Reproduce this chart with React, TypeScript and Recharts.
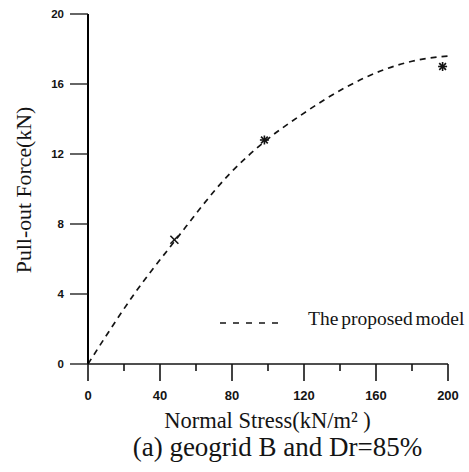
import React from 'react';
import { ComposedChart, Line, Scatter, XAxis, YAxis, Legend, Label } from 'recharts';

// Model curve
const curveStress = [0, 10, 25, 48, 79, 98, 118, 143, 164, 180, 195, 200];
const curveForce = [0, 1.6, 3.9, 7.0, 10.9, 12.7, 14.2, 15.8, 16.8, 17.3, 17.55, 17.6];
// Test results (markers)
const testStress = [48, 98, 197];
const testForce = [7.1, 12.8, 17.0];

const xTicks = [0, 20, 40, 60, 80, 100, 120, 140, 160, 180, 200];
const yTicks = [0, 4, 8, 12, 16, 20];

const xAxisTitle = 'Normal Stress(kN/m\u00B2 )';
const yAxisTitle = 'Pull-out Force(kN)';
const caption = '(a) geogrid B and Dr=85%';
const legendLabel = 'The proposed model';

const curveData = curveStress.map((x, i) => ({ x, y: curveForce[i] }));
const testData = testStress.map((x, i) => ({ x, y: testForce[i] }));

const SERIF = '"Liberation Serif", "Times New Roman", serif';
const SANS = '"Liberation Sans", Arial, sans-serif';
const INK = '#141414';

const XTick = (props: any) => {
  const { x, y, payload } = props;
  const v = payload.value;
  const major = v % 40 === 0;
  return (
    <g>
      <line x1={x} x2={x} y1={y} y2={y + (major ? 17 : 7)} stroke={INK} strokeWidth={1.6} />
      {major && (
        <text x={x} y={y + 36} textAnchor="middle" fontFamily={SANS} fontSize={13} fontWeight={600} fill={INK}>
          {v}
        </text>
      )}
    </g>
  );
};

const YTick = (props: any) => {
  const { x, y, payload } = props;
  return (
    <text x={x} y={y + 4} textAnchor="end" fontFamily={SANS} fontSize={11.5} fontWeight={600} fill={INK}>
      {payload.value}
    </text>
  );
};

const Marker = (props: any) => {
  const { cx, cy, index } = props;
  if (cx == null || cy == null) return null;
  if (index === 0) {
    const r = 4;
    return (
      <g stroke={INK} strokeWidth={1.6}>
        <line x1={cx - r} y1={cy - r} x2={cx + r} y2={cy + r} />
        <line x1={cx - r} y1={cy + r} x2={cx + r} y2={cy - r} />
      </g>
    );
  }
  const r = 4.5;
  const d = r * 0.75;
  return (
    <g stroke={INK} strokeWidth={1.6}>
      <line x1={cx} y1={cy - r} x2={cx} y2={cy + r} />
      <line x1={cx - r} y1={cy} x2={cx + r} y2={cy} />
      <line x1={cx - d} y1={cy - d} x2={cx + d} y2={cy + d} />
      <line x1={cx - d} y1={cy + d} x2={cx + d} y2={cy - d} />
    </g>
  );
};

const XLabels = (props: any) => {
  const vb = props.viewBox || { x: 88, y: 364, width: 360, height: 108 };
  const cx = vb.x + vb.width / 2;
  return (
    <g>
      <text x={cx - 0.5} y={vb.y + 64} textAnchor="middle" fontFamily={SERIF} fontSize={22.5} fill={INK}>
        {xAxisTitle}
      </text>
      <text x={cx + 9.5} y={vb.y + 92} textAnchor="middle" fontFamily={SERIF} fontSize={27} fill={INK}>
        {caption}
      </text>
    </g>
  );
};

const YLabel = (props: any) => {
  const vb = props.viewBox || { x: 0, y: 14, width: 88, height: 350 };
  const tx = vb.x + 31;
  const ty = vb.y + vb.height / 2 + 1;
  return (
    <text
      x={tx}
      y={ty}
      textAnchor="middle"
      fontFamily={SERIF}
      fontSize={21.8}
      fill={INK}
      transform={`rotate(-90, ${tx}, ${ty})`}
    >
      {yAxisTitle}
    </text>
  );
};

const LegendContent = () => (
  <svg width={260} height={30} style={{ display: 'block' }}>
    <line x1={8} x2={72} y1={18} y2={18} stroke={INK} strokeWidth={1.6} strokeDasharray="6 7" />
    <text x={96} y={20} fontFamily={SERIF} fontSize={19.5} fill={INK} wordSpacing={-2}>
      {legendLabel}
    </text>
  </svg>
);

export default function App() {
  return (
    <div style={{ position: 'absolute', left: 0, top: 0, width: 469, height: 472, background: '#fff' }}>
      <ComposedChart width={469} height={472} margin={{ top: 14, right: 21, left: 0, bottom: 0 }}>
        <XAxis
          dataKey="x"
          type="number"
          domain={[0, 200]}
          ticks={xTicks}
          interval={0}
          height={108}
          tickSize={0}
          tickMargin={0}
          tickLine={false}
          tick={<XTick />}
          axisLine={{ stroke: INK, strokeWidth: 1.6 }}
          allowDataOverflow
        >
          <Label content={<XLabels />} />
        </XAxis>
        <YAxis
          type="number"
          domain={[0, 20]}
          ticks={yTicks}
          interval={0}
          width={88}
          tickSize={18}
          tickMargin={6}
          tickLine={{ stroke: INK, strokeWidth: 1.3 }}
          tick={<YTick />}
          axisLine={{ stroke: '#000', strokeWidth: 2 }}
          allowDataOverflow
        >
          <Label content={<YLabel />} />
        </YAxis>
        <Legend
          layout="vertical"
          align="center"
          verticalAlign="middle"
          content={<LegendContent />}
          wrapperStyle={{ position: 'absolute', left: 212, top: 305, width: 260 }}
        />
        <Line
          data={curveData}
          dataKey="y"
          type="monotone"
          stroke={INK}
          strokeWidth={1.7}
          strokeDasharray="6 5"
          dot={false}
          activeDot={false}
          isAnimationActive={false}
          legendType="none"
        />
        <Scatter data={testData} dataKey="y" shape={<Marker />} isAnimationActive={false} legendType="none" />
      </ComposedChart>
    </div>
  );
}
